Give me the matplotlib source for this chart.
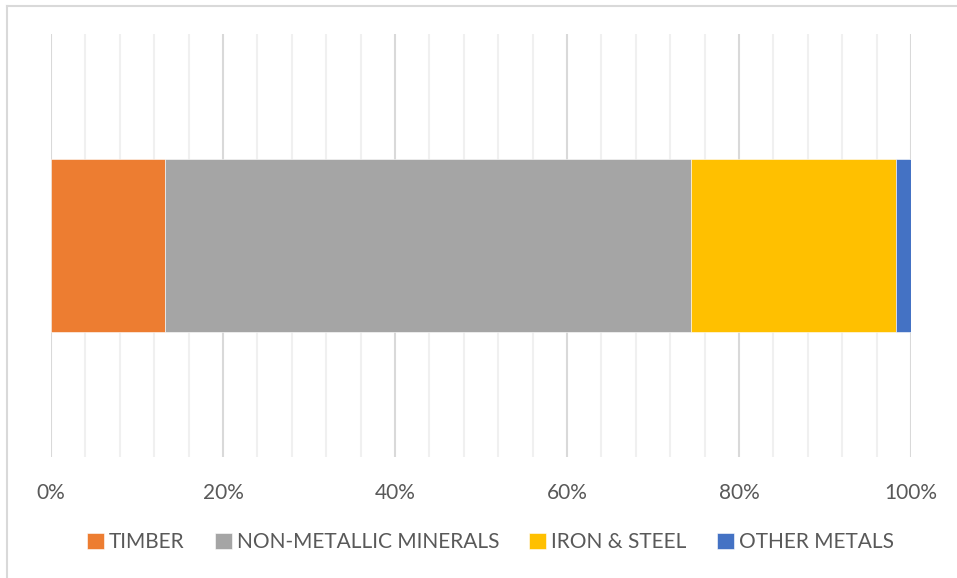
import matplotlib
matplotlib.use("Agg")
import matplotlib.pyplot as plt
from matplotlib.lines import Line2D
from matplotlib.ticker import MultipleLocator, PercentFormatter

plt.rcParams['font.family'] = ['Lato', 'DejaVu Sans']

categories = ["TIMBER", "NON-METALLIC MINERALS", "IRON & STEEL", "OTHER METALS"]
shares = [13.3, 61.1, 23.8, 1.8]
colors = ["#ED7D31", "#A5A5A5", "#FFC000", "#4472C4"]
tick_values = [0, 20, 40, 60, 80, 100]

W, H = 957, 578
fig = plt.figure(figsize=(W / 100, H / 100), dpi=100)
ax = fig.add_axes([51 / W, 1 - 457 / H, 860 / W, 423 / H])

left = 0.0
for name, val, col in zip(categories, shares, colors):
    ax.barh([0], [val], left=left, height=0.407, color=col,
            edgecolor="white", linewidth=0.4, label=name, zorder=3)
    left += val

ax.set_xlim(0, 100)
ax.set_ylim(-0.5, 0.5)
ax.set_xticks(tick_values)
ax.xaxis.set_major_formatter(PercentFormatter(decimals=0))
ax.xaxis.set_minor_locator(MultipleLocator(4))
ax.set_yticks([])
ax.grid(axis="x", which="major", color="#D9D9D9", linewidth=1.5, zorder=0)
ax.grid(axis="x", which="minor", color="#F0F0F0", linewidth=1.5, zorder=0)
ax.tick_params(axis="x", which="both", length=0, pad=19, labelsize=15,
               labelcolor="#595959")
for s in ax.spines.values():
    s.set_visible(False)

leg = fig.legend(loc="center", bbox_to_anchor=(0.5125, 1 - 542 / H), ncol=4,
                 frameon=False, fontsize=15, handlelength=0.8,
                 handleheight=0.8, handletextpad=0.25, columnspacing=1.45)
for t in leg.get_texts():
    t.set_color("#595959")

# light frame along the top and left edges
fig.add_artist(Line2D([6.5 / W, 1], [1 - 5.5 / H, 1 - 5.5 / H],
                      transform=fig.transFigure, color="#D9D9D9", linewidth=1.5))
fig.add_artist(Line2D([6.5 / W, 6.5 / W], [0, 1 - 5.5 / H],
                      transform=fig.transFigure, color="#D9D9D9", linewidth=1.5))

fig.savefig("out.png", dpi=100)
